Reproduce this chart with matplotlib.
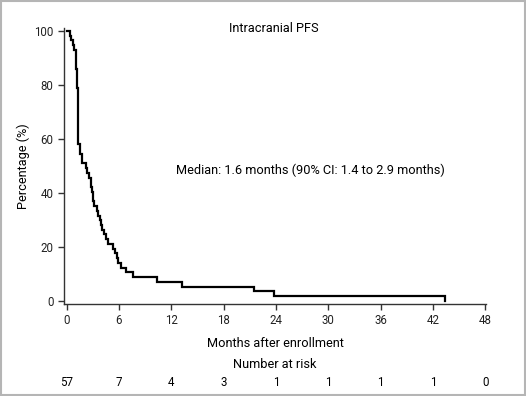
import matplotlib
matplotlib.use("Agg")
import matplotlib.pyplot as plt
from matplotlib.patches import Rectangle
import matplotlib.transforms as mtransforms

n_total = 57
# event times (months) and patients remaining after each step
event_times = [0.34, 0.5, 0.7, 0.9, 1.05, 1.1, 1.15, 1.2, 1.25, 1.3, 1.52, 1.72,
               2.18, 2.35, 2.55, 2.75, 2.85, 2.95, 3.0, 3.05, 3.09, 3.44, 3.65,
               3.78, 3.95, 4.1, 4.24, 4.5, 4.7, 5.27, 5.6, 5.75, 5.85, 6.19,
               6.76, 7.56, 10.4, 13.25, 21.5, 23.75, 43.4]
remaining = [56, 55, 54, 53, 51, 49, 47, 45, 42, 33, 31, 29,
             28, 27, 26, 25, 24, 23, 22, 21, 20, 19, 18,
             17, 16, 15, 14, 13, 12, 11, 10, 9, 8, 7,
             6, 5, 4, 3, 2, 1, 0]

risk_times = [0, 6, 12, 18, 24, 30, 36, 42, 48]
at_risk = [57, 7, 4, 3, 1, 1, 1, 1, 0]

xs = [0] + event_times
ys = [100.0] + [100.0 * r / n_total for r in remaining]

fig = plt.figure(figsize=(5.26, 3.96), dpi=100)
ax = fig.add_axes([0.1217, 0.2323, 0.8023, 0.6967])

ax.step(xs, ys, where="post", color="black", lw=1.6, solid_joinstyle="miter")

ax.set_xlim(-0.3, 48.1)
ax.set_ylim(-1.2, 101)
ax.set_xticks(risk_times)
ax.set_yticks([0, 20, 40, 60, 80, 100])
ax.spines["top"].set_visible(False)
ax.spines["right"].set_visible(False)
for s in ["left", "bottom"]:
    ax.spines[s].set_color("#333333")
    ax.spines[s].set_linewidth(1.0)
ax.tick_params(direction="out", length=4, width=1, color="#333333",
               labelsize=8.3, labelcolor="#222222")
for lab in ax.get_xticklabels() + ax.get_yticklabels():
    lab.set_family("Roboto")

ax.set_ylabel("Percentage (%)", fontsize=9.2, family="Roboto", labelpad=3)
ax.set_xlabel("Months after enrollment", fontsize=9.2, family="Roboto", labelpad=7)

fig.text(274 / 526, 1 - 28 / 396, "Intracranial PFS", fontsize=9.2,
         family="Roboto", ha="center", va="center")
fig.text(176 / 526, 1 - 170 / 396,
         "Median: 1.6 months (90% CI: 1.4 to 2.9 months)", fontsize=9.2,
         family="Roboto", ha="left", va="center")
fig.text(275 / 526, 1 - 365 / 396, "Number at risk", fontsize=9.2,
         family="Roboto", ha="center", va="center")

trans = mtransforms.blended_transform_factory(ax.transData, fig.transFigure)
for t, n in zip(risk_times, at_risk):
    ax.text(t, 1 - 383 / 396, str(n), transform=trans, fontsize=8.3,
            family="Roboto", ha="center", va="center", clip_on=False)

fig.patches.append(Rectangle((0.002, 0.002), 0.996, 0.996, transform=fig.transFigure,
                             fill=False, edgecolor="#b5b5b5", lw=1.5))

fig.savefig("out.png", dpi=100)
